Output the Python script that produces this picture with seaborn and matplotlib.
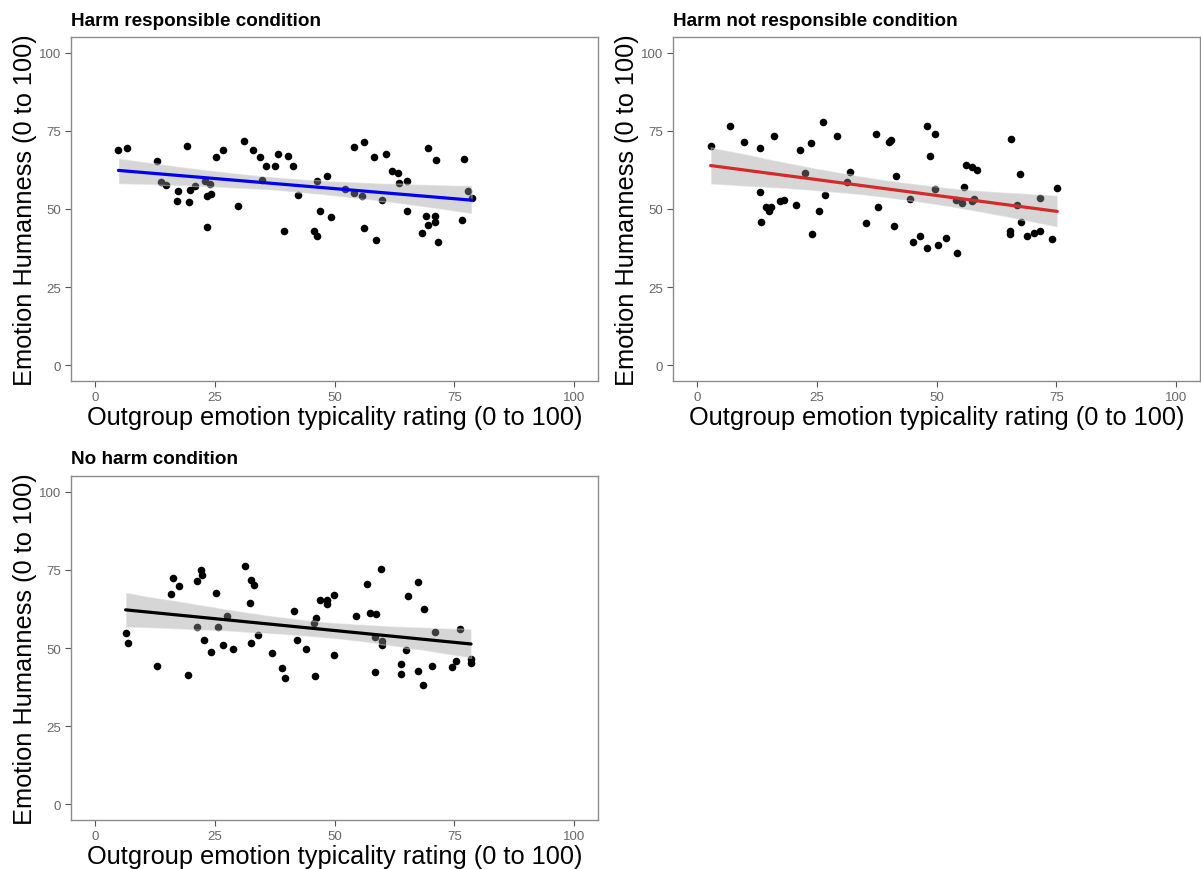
import matplotlib
matplotlib.use("Agg")
import matplotlib.pyplot as plt
import pandas as pd
import seaborn as sns

sns.set_theme(style="white")
plt.rcParams["font.family"] = ["Liberation Sans", "DejaVu Sans"]

# Harm responsible condition
resp_typicality = [4.9, 6.7, 19.2, 12.9, 13.75, 14.9, 17.4, 17.1, 19.6, 19.9, 20.8, 23.0, 24.0, 23.3,
                   24.3, 23.4, 25.2, 26.8, 31.2, 33.0, 34.5, 35.6, 37.6, 38.2, 40.3, 41.3, 34.8, 29.9,
                   42.3, 39.4, 46.25, 48.4, 46.9, 49.2, 45.8, 46.25, 52.2, 54.0, 56.2, 58.3, 60.8, 69.5,
                   71.25, 77.1, 62.0, 63.2, 63.4, 65.1, 54.0, 55.8, 59.9, 77.8, 78.6, 65.1, 69.1, 71.0,
                   69.5, 71.0, 68.3, 76.6, 56.1, 58.7, 71.6]
resp_humanness = [69.0, 69.4, 70.0, 65.2, 58.7, 57.6, 55.7, 52.7, 52.3, 56.2, 57.5, 59.0, 58.1, 54.1,
                  54.8, 44.4, 66.7, 68.9, 71.6, 69.0, 66.5, 63.9, 63.7, 67.6, 67.0, 63.7, 59.3, 50.9,
                  54.6, 43.1, 58.9, 60.4, 49.4, 47.3, 43.0, 41.4, 56.4, 69.8, 71.5, 66.6, 67.5, 69.4,
                  65.6, 65.9, 62.1, 61.4, 58.2, 58.9, 55.0, 54.1, 52.8, 55.7, 53.6, 49.3, 47.8, 47.8,
                  44.8, 45.7, 42.4, 46.4, 44.0, 40.2, 39.6]

# Harm not responsible condition
notresp_typicality = [2.85, 6.8, 9.8, 13.06, 16.0, 13.1, 14.4, 15.4, 15.0, 13.4, 17.3, 18.2, 20.6, 21.6,
                      23.8, 26.25, 29.2, 22.5, 26.7, 25.4, 24.0, 31.9, 31.4, 35.2, 37.7, 37.4, 40.0,
                      40.6, 41.5, 41.1, 44.5, 45.1, 46.5, 48.0, 48.0, 49.6, 48.6, 49.6, 50.4, 51.9, 54.3,
                      55.8, 54.0, 55.35, 57.4, 57.8, 56.2, 57.4, 58.4, 65.5, 67.4, 66.9, 67.6, 65.4,
                      65.3, 68.8, 70.3, 71.5, 71.6, 74.1, 75.2]
notresp_humanness = [70.3, 76.7, 71.3, 69.4, 73.4, 55.3, 50.6, 50.6, 49.5, 46.0, 52.4, 53.0, 51.3, 68.8,
                     71.0, 77.8, 73.5, 61.6, 54.6, 49.3, 41.9, 61.9, 58.5, 45.6, 50.7, 74.1, 71.3,
                     72.0, 60.7, 44.6, 53.3, 39.4, 41.5, 37.6, 76.6, 74.0, 67.1, 56.5, 38.4, 40.8, 36.0,
                     57.0, 52.9, 52.0, 52.7, 53.3, 64.2, 63.5, 62.6, 72.5, 61.1, 51.4, 45.7, 42.9,
                     41.9, 41.3, 42.4, 43.0, 53.4, 40.3, 56.8]

# No harm condition
noharm_typicality = [6.4, 7.0, 13.0, 19.4, 15.9, 16.25, 17.6, 21.4, 22.1, 22.4, 21.3, 22.8, 24.3, 25.2,
                     25.6, 26.7, 27.5, 28.8, 31.3, 32.6, 33.3, 32.3, 34.0, 32.6, 36.9, 39.0, 39.6, 41.5,
                     42.1, 44.0, 46.0, 46.1, 45.8, 46.9, 48.5, 48.4, 49.9, 49.9, 59.7, 56.7, 67.5, 65.4,
                     68.7, 54.4, 57.4, 58.75, 58.5, 59.9, 60.0, 64.9, 71.0, 76.25, 63.9, 58.5, 63.8,
                     67.4, 68.5, 70.3, 74.6, 75.3, 78.5, 78.5]
noharm_humanness = [54.9, 51.7, 44.4, 41.5, 67.4, 72.3, 69.9, 71.5, 75.0, 73.5, 56.6, 52.7, 48.6, 67.5,
                    56.6, 51.1, 60.2, 49.7, 76.1, 71.7, 70.0, 64.4, 54.0, 51.5, 48.5, 43.7, 40.4, 61.8,
                    52.4, 49.8, 41.1, 59.7, 57.9, 65.5, 65.4, 64.1, 66.8, 47.8, 75.3, 70.6, 71.1, 66.5,
                    62.4, 60.1, 61.2, 60.8, 53.5, 52.2, 50.8, 49.3, 55.0, 56.2, 44.9, 42.2, 41.6,
                    42.6, 38.1, 44.4, 43.8, 45.8, 46.6, 45.3]

panel_titles = ["Harm responsible condition", "Harm not responsible condition", "No harm condition"]
fit_colors = ["#0000ee", "#d42a2a", "#000000"]
axis_ticks = [0, 25, 50, 75, 100]
x_title = "Outgroup emotion typicality rating (0 to 100)"
y_title = "Emotion Humanness (0 to 100)"

panels = [
    (resp_typicality, resp_humanness),
    (notresp_typicality, notresp_humanness),
    (noharm_typicality, noharm_humanness),
]

W, H = 1201, 870
fig = plt.figure(figsize=(W / 100, H / 100), dpi=100)
fig.patch.set_facecolor("white")

# panel boxes in pixels: left, top, right, bottom
boxes = [(71, 38, 598, 382), (673, 38, 1200, 382), (71, 477, 598, 821)]

for (xs, ys), title, color, (l, t, r, b) in zip(panels, panel_titles, fit_colors, boxes):
    ax = fig.add_axes([l / W, 1 - b / H, (r - l) / W, (b - t) / H])
    df = pd.DataFrame({"typicality": xs, "humanness": ys})
    sns.scatterplot(data=df, x="typicality", y="humanness", ax=ax, color="black",
                    s=30, linewidth=0, zorder=1)
    sns.regplot(data=df, x="typicality", y="humanness", ax=ax, scatter=False,
                ci=95, n_boot=2000, seed=7, color=color, line_kws={"linewidth": 2.3, "zorder": 3})
    band = ax.collections[-1]
    band.set_facecolor("#999999")
    band.set_alpha(0.4)
    band.set_zorder(2)

    ax.set_xlim(-5, 105)
    ax.set_ylim(-5, 105)
    ax.set_xticks(axis_ticks)
    ax.set_yticks(axis_ticks)
    ax.tick_params(axis="both", which="major", length=4, width=0.8, color="#555555",
                   labelsize=9.5, labelcolor="#666666", pad=3, bottom=True, left=True)
    for sp in ax.spines.values():
        sp.set_color("#8c8c8c")
        sp.set_linewidth(1.0)
    ax.set_xlabel(x_title, fontsize=18.3, color="black", labelpad=1.5)
    ax.set_ylabel(y_title, fontsize=18.3, color="black", labelpad=1.5)
    ax.set_title(title, loc="left", fontsize=13.6, fontweight="bold", color="black", pad=9)
    ax.grid(False)

fig.savefig("out.png", dpi=100, facecolor="white")
